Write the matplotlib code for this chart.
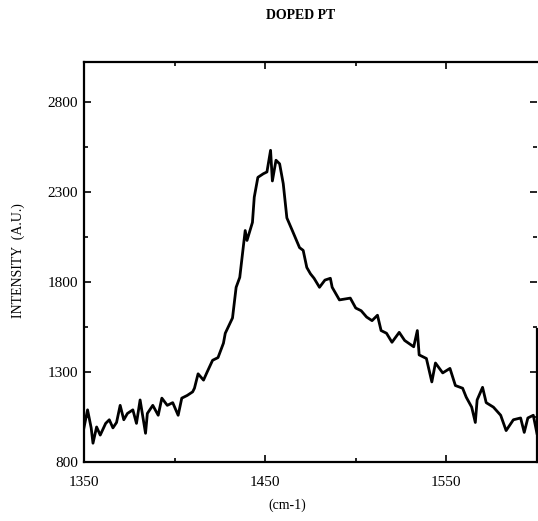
import numpy as np
import matplotlib
matplotlib.use("Agg")
import matplotlib.pyplot as plt

# spectrum
wavenumber = [1350, 1352, 1354, 1355, 1357, 1359, 1362, 1364, 1366, 1368,
              1370, 1372, 1374, 1377, 1379, 1381, 1384, 1385, 1388, 1391,
              1393, 1396, 1399, 1402, 1404, 1407, 1410, 1411, 1413, 1416,
              1418, 1421, 1424, 1427, 1428, 1432, 1434, 1436, 1439, 1440,
              1443, 1444, 1446, 1449, 1451, 1453, 1454, 1456, 1458, 1460,
              1462, 1465, 1469, 1471, 1473, 1475, 1477, 1480, 1483, 1486,
              1487, 1491, 1497, 1500, 1503, 1506, 1509, 1512, 1514, 1517,
              1520, 1524, 1527, 1532, 1534, 1535, 1539, 1542, 1544, 1548,
              1552, 1555, 1559, 1561, 1564, 1566, 1567, 1570, 1572, 1576,
              1580, 1583, 1587, 1591, 1593, 1595, 1598, 1600]
intensity = [990, 1090, 990, 905, 995, 950, 1015, 1035, 990, 1020,
             1115, 1035, 1070, 1090, 1015, 1145, 960, 1070, 1115, 1060,
             1155, 1115, 1130, 1060, 1155, 1170, 1190, 1210, 1290, 1255,
             1300, 1365, 1380, 1460, 1515, 1600, 1770, 1825, 2085, 2030,
             2130, 2270, 2380, 2400, 2410, 2530, 2360, 2475, 2455, 2345,
             2155, 2085, 1990, 1975, 1880, 1845, 1820, 1770, 1810, 1820,
             1770, 1700, 1710, 1655, 1640, 1605, 1585, 1615, 1530, 1515,
             1465, 1520, 1475, 1440, 1530, 1395, 1375, 1245, 1350, 1295,
             1320, 1225, 1210, 1160, 1105, 1020, 1145, 1215, 1130, 1105,
             1060, 975, 1035, 1045, 965, 1045, 1060, 960]

xticks = [1350, 1450, 1550]
yticks = [800, 1300, 1800, 2300, 2800]

plt.rcParams["font.family"] = "Liberation Serif"

fig = plt.figure(figsize=(5.38, 5.21), dpi=100)
ax = fig.add_axes([0.156, 0.113, 0.842, 0.768])
ax.plot(wavenumber, intensity, color="black", lw=2.0)

ax.set_xlim(1350, 1600)
ax.set_ylim(800, 3020)
ax.set_xticks(xticks)
ax.set_yticks(yticks)
ax.set_xticks([1400, 1500], minor=True)
ax.set_yticks([1050, 1550, 2050, 2550], minor=True)
ax.tick_params(which="both", direction="in", top=True, right=True,
               labelsize=11, width=1.2)
ax.tick_params(which="major", length=5)
ax.tick_params(which="minor", length=3)
ax.tick_params(axis="x", pad=10)
ax.tick_params(axis="y", pad=4)

for s in ax.spines.values():
    s.set_linewidth(1.6)
# right border only drawn on the lower part in the scan
ax.spines["right"].set_bounds(800, 1540)

fig.text(0.558, 0.97, "DOPED PT", ha="center", va="center",
         fontsize=10, fontweight="bold")
fig.text(0.034, 0.50, "INTENSITY  (A.U.)", ha="center", va="center",
         rotation=90, fontsize=10)
fig.text(0.534, 0.03, "(cm-1)", ha="center", va="center", fontsize=10)

fig.savefig("out.png", dpi=100)
